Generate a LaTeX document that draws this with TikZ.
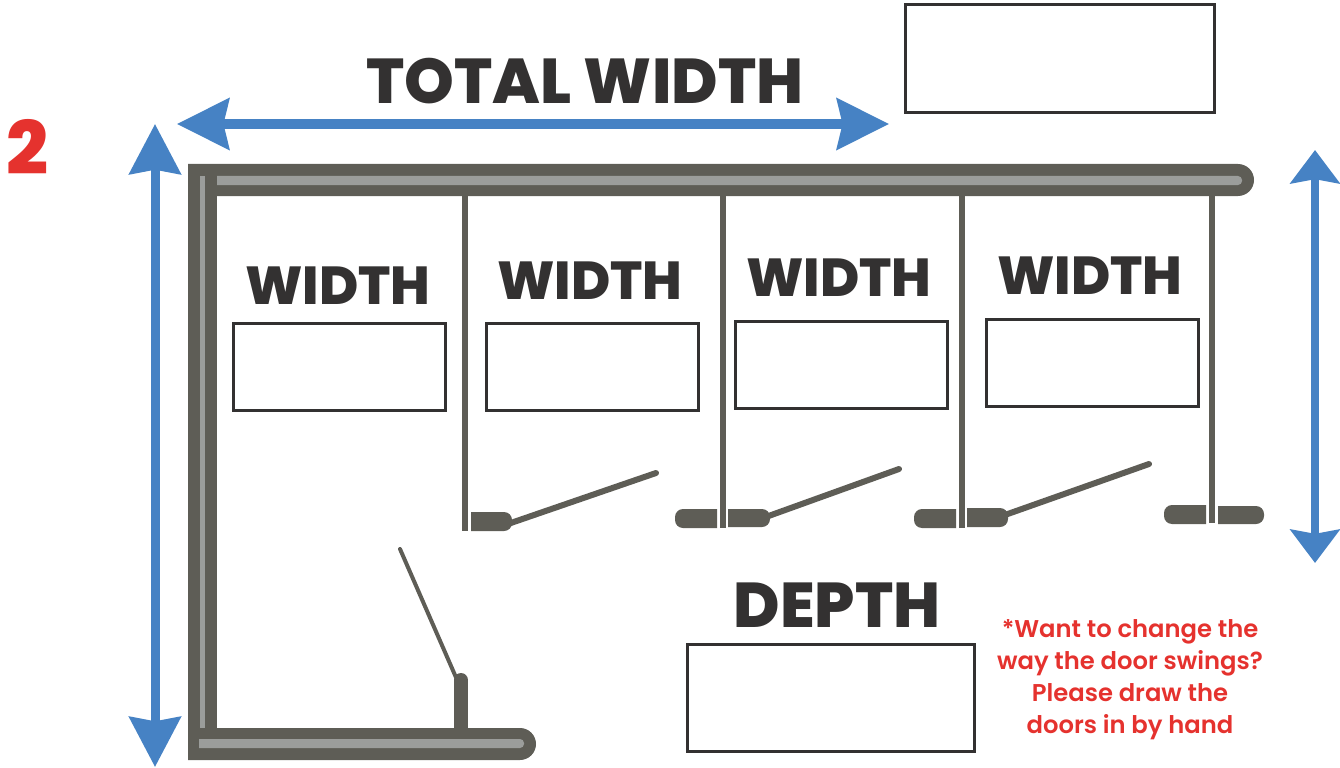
\documentclass[tikz,border=0pt]{standalone}
\usepackage{fontspec}
\setmainfont{Poppins}
\newfontfamily\heavyfont{Poppins ExtraBold}
\newfontfamily\semifont{Poppins SemiBold}
\usetikzlibrary{arrows.meta}

\definecolor{wallgrey}{HTML}{5E5D56}
\definecolor{walllight}{HTML}{9B9D9B}
\definecolor{dimblue}{HTML}{4682C4}
\definecolor{titleblack}{HTML}{333131}
\definecolor{notered}{HTML}{E5322E}

\tikzset{
  wall/.style={fill=wallgrey},
  inlay/.style={fill=walllight},
  panel/.style={draw=wallgrey,line width=0.06cm},
  door/.style={draw=wallgrey,line width=0.06cm,line cap=round},
  dimh/.style={draw=dimblue,line width=0.09cm,{Stealth[length=14.8pt,width=14.5pt,inset=1.6pt]}-{Stealth[length=14.8pt,width=14.5pt,inset=1.6pt]}},
  dimv/.style={draw=dimblue,line width=0.09cm,{Stealth[length=14.2pt,width=14.5pt,inset=1.2pt]}-{Stealth[length=14.2pt,width=14.5pt,inset=1.2pt]}},
  dimr/.style={draw=dimblue,line width=0.08cm,{Stealth[length=9.5pt,width=14pt,inset=1.2pt]}-{Stealth[length=9.5pt,width=14pt,inset=1.2pt]}},
  entry/.style={draw=titleblack,line width=0.03cm,inner sep=0pt,outer sep=0pt,fill=white},
  title/.style={text=titleblack,font=\fontsize{18}{18}\selectfont\heavyfont,inner sep=0pt},
  note/.style={text=notered,font=\fontsize{6.9}{9.1}\selectfont\semifont,align=center,inner sep=0pt}
}

\begin{document}
\begin{tikzpicture}[x=0.01cm,y=-0.01cm]
  \useasboundingbox (0,0) rectangle (1340,767);

  % walls
  \fill[wall] (188,164) [rounded corners=0.16cm] -- (1254,164) -- (1254,196) [sharp corners] -- (188,196) -- cycle;
  \fill[wall] (188,164) rectangle (217,760);
  \fill[wall] (188,728) [rounded corners=0.16cm] -- (536,728) -- (536,760) [sharp corners] -- (188,760) -- cycle;
  \fill[inlay] (200,176) rectangle (205,728);
  \fill[inlay] (217,176) [rounded corners=0.04cm] -- (1242,176) -- (1242,185) [sharp corners] -- (217,185) -- cycle;
  \fill[inlay] (199,739) [rounded corners=0.04cm] -- (524,739) -- (524,748) [sharp corners] -- (199,748) -- cycle;

  % panels
  \draw[panel] (465,196) -- (465,531);
  \draw[panel] (723,196) -- (723,528);
  \draw[panel] (962,196) -- (962,528);
  \draw[panel] (1212,196) -- (1212,523);

  % pilasters, left then right of each panel
  \fill[wall] (471,512) [rounded corners=0.08cm] -- (512,512) -- (512,531) [sharp corners] -- (471,531) -- cycle;
  \fill[wall] (717,509) [rounded corners=0.08cm] -- (675,509) -- (675,528) [sharp corners] -- (717,528) -- cycle;
  \fill[wall] (728,509) [rounded corners=0.08cm] -- (770,509) -- (770,527) [sharp corners] -- (728,527) -- cycle;
  \fill[wall] (956,509) [rounded corners=0.08cm] -- (914,509) -- (914,528) [sharp corners] -- (956,528) -- cycle;
  \fill[wall] (967,508) [rounded corners=0.08cm] -- (1008,508) -- (1008,527) [sharp corners] -- (967,527) -- cycle;
  \fill[wall] (1206,505) [rounded corners=0.08cm] -- (1164,505) -- (1164,524) [sharp corners] -- (1206,524) -- cycle;
  \fill[wall] (1218,506) [rounded corners=0.08cm] -- (1264,506) -- (1264,524) [sharp corners] -- (1218,524) -- cycle;

  % doors
  \draw[door] (505,525) -- (656,473);
  \draw[door] (763,518) -- (899,469);
  \draw[door] (1002,516) -- (1149,464);
  \draw[door,line width=0.04cm] (400,549) -- (458,682);
  \draw[door,line width=0.14cm] (461,680) -- (461,728);

  % dimension ends
  \coordinate (totalL) at (177,124);
  \coordinate (totalR) at (889,124);
  \coordinate (depthT) at (155,124);
  \coordinate (depthB) at (155,767);
  \coordinate (sideT) at (1315,150);
  \coordinate (sideB) at (1315,563);
  \draw[dimh] (totalL) -- (totalR);
  \draw[dimv] (depthT) -- (depthB);
  \draw[dimr] (sideT) -- (sideB);

  % entry boxes
  \node[entry,minimum width=3.085cm,minimum height=1.075cm] (boxtotal) at (1060,58.5) {};
  \node[entry,minimum width=2.115cm,minimum height=0.865cm] (boxa) at (339.5,367) {};
  \node[entry,minimum width=2.115cm,minimum height=0.865cm] (boxb) at (592.5,367) {};
  \node[entry,minimum width=2.115cm,minimum height=0.865cm] (boxc) at (841.5,365) {};
  \node[entry,minimum width=2.115cm,minimum height=0.865cm] (boxd) at (1092.5,363) {};
  \node[entry,minimum width=2.865cm,minimum height=1.065cm] (boxdepth) at (831,698) {};

  % labels
  \node[title] (total) at (585,81) {TOTAL WIDTH};
  \node[title,font=\fontsize{15.2}{15.2}\selectfont\heavyfont] (widtha) at (338,286) {WIDTH};
  \node[title,font=\fontsize{15.2}{15.2}\selectfont\heavyfont] (widthb) at (590,281) {WIDTH};
  \node[title,font=\fontsize{15.2}{15.2}\selectfont\heavyfont] (widthc) at (839,278) {WIDTH};
  \node[title,font=\fontsize{15.2}{15.2}\selectfont\heavyfont] (widthd) at (1090,276) {WIDTH};
  \node[title,font=\fontsize{18}{18}\selectfont\heavyfont] (depth) at (837,605) {DEPTH};
  \node[text=notered,font=\fontsize{21}{21}\selectfont\heavyfont,inner sep=0pt] (count) at (27.5,147) {2};
  \node[note] (swing) at (1130,680) {*Want to change the\\way the door swings?\\Please draw the\\doors in by hand};
\end{tikzpicture}
\end{document}
